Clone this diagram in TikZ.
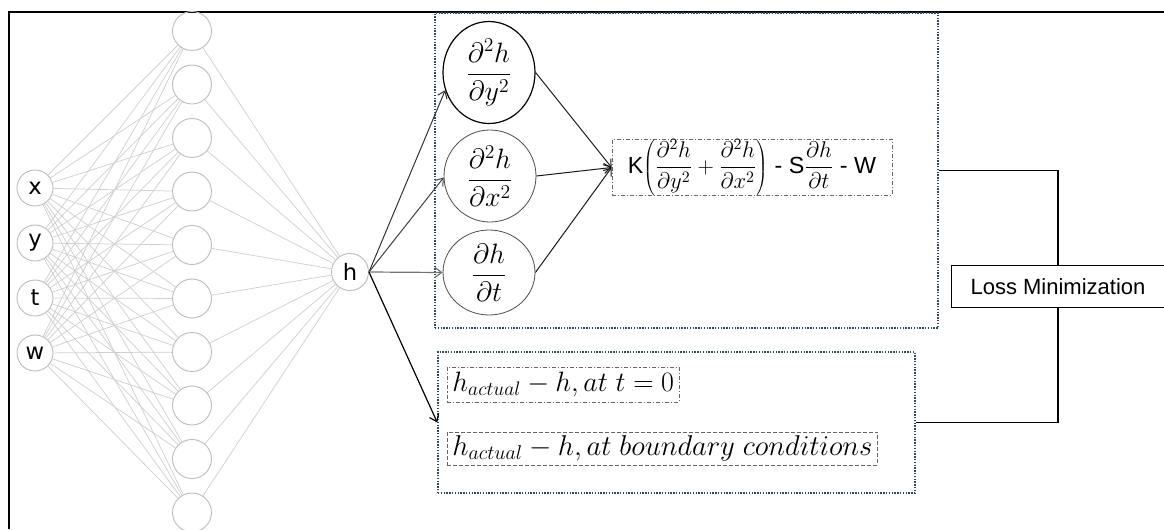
\RequirePackage{fix-cm}
\documentclass[tikz,border=0pt]{standalone}
\usepackage{fontspec}
\setmainfont{Liberation Sans}
\newfontfamily\dvs{DejaVu Sans}
\usetikzlibrary{shapes.geometric,arrows.meta}
\definecolor{grp}{HTML}{2E4A5C}
\definecolor{nnline}{HTML}{CFCFCF}
\definecolor{nncirc}{HTML}{BDBDBD}
\newcommand{\mathsz}[1]{{\fontsize{17}{20}\selectfont$\displaystyle #1$}}
\begin{document}
\begin{tikzpicture}[x=0.75pt,y=-0.75pt,
  nnin/.style={circle,draw=nncirc,line width=0.7pt,minimum size=27pt,inner sep=0pt,font=\dvs\fontsize{17}{19}\selectfont},
  nnhid/.style={circle,draw=nncirc,line width=0.7pt,minimum size=29.25pt,inner sep=0pt},
  nnedge/.style={draw=nnline,line width=0.55pt},
  deriv/.style={ellipse,inner sep=0pt,minimum width=69pt,font=\fontsize{21}{25}\selectfont},
  arr/.style={-{Straight Barb[length=5pt,width=7.5pt]},line width=0.75pt},
  grpbox/.style={draw=grp,line width=1.1pt,densely dotted,inner sep=0pt},
  dashdotbox/.style={draw=black!60,line width=0.6pt,dash pattern=on 3pt off 1.5pt on 0.8pt off 1.5pt},
  dashbox/.style={draw=black!60,line width=0.6pt,dash pattern=on 3pt off 1.5pt},
  conn/.style={line width=1.1pt,black}
]
\useasboundingbox (0,0) rectangle (1164,529);
% outer frame
\draw[line width=1.5pt] (9,529) -- (9,12) -- (1164,12);

% input nodes
\node[nnin] (in1) at (35,188) {x};
\node[nnin] (in2) at (35,243) {y};
\node[nnin] (in3) at (35,298) {t};
\node[nnin] (in4) at (35,353) {w};
% hidden nodes
\foreach \j in {1,...,10}{
  \node[nnhid] (hid\j) at (192,{31+53.5*(\j-1)}) {};
}
% output node
\node[nnin,minimum size=27.75pt] (h) at (350,272) {h};
% edges
\foreach \i in {1,...,4}{
  \foreach \j in {1,...,10}{
    \draw[nnedge] (in\i) -- (hid\j);
  }
}
\foreach \j in {1,...,10}{
  \draw[nnedge] (hid\j) -- (h);
}

% group boxes
\node[grpbox,minimum width=377.25pt,minimum height=236.25pt] (topbox) at (686.5,170.5) {};
\node[grpbox,minimum width=357.75pt,minimum height=105.75pt] (botbox) at (676.5,422.5) {};

% derivative ellipses
\node[deriv,draw=black,line width=0.9pt,minimum height=76.5pt] (e1) at (489,72.5) {$\displaystyle\frac{\partial^2 h}{\partial y^2}$};
\node[deriv,draw=black!70,line width=0.6pt,minimum height=69pt] (e2) at (490,176) {$\displaystyle\frac{\partial^2 h}{\partial x^2}$};
\node[deriv,draw=black!70,line width=0.6pt,minimum height=63.75pt] (e3) at (489,272.5) {$\displaystyle\frac{\partial h}{\partial t}$};

% PDE residual
\node[dashdotbox,minimum width=210pt,minimum height=41.25pt,inner sep=0pt,font=\fontsize{17.5}{20}\selectfont] (pde) at (752,167.5)
  {K\mathsz{\left(\frac{\partial^2 h}{\partial y^2}+\frac{\partial^2 h}{\partial x^2}\right)} - S\mathsz{\frac{\partial h}{\partial t}} - W};

% initial / boundary conditions
\node[dashdotbox,anchor=west,inner xsep=3.75pt,inner ysep=1pt,minimum height=26.25pt,font=\fontsize{21}{25}\selectfont] (ic) at (447,384.5)
  {$h_{actual}-h,at\ t=0$};
\node[dashbox,anchor=west,inner xsep=3.75pt,inner ysep=1pt,minimum height=24.75pt,font=\fontsize{21.5}{25}\selectfont] (bc) at (447,448.5)
  {$h_{actual}-h,at\ boundary\ conditions$};

% loss node
\node[minimum width=159pt,minimum height=30.75pt,inner sep=0pt,font=\fontsize{16.5}{19}\selectfont] (loss) at (1058,286.5) {Loss Minimization};
\draw[line width=1.1pt] (loss.north east) -- (loss.north west) -- (loss.south west) -- (loss.south east);

% arrows from h
\draw[arr,draw=black!80] (h.east) -- (e1.202);
\draw[arr,draw=black!75] (h.east) -- (e2.182);
\draw[arr,draw=black!55,line width=0.9pt] (h.east) -- (e3.west);
\draw[arr,draw=black,line width=0.9pt] (h.east) -- (botbox.west);

% arrows into PDE residual
\draw[arr,draw=black!90] (e1.east) -- (pde.west);
\draw[arr,draw=black!90] (e2.east) -- (pde.west);
\draw[arr,draw=black!90] (e3.east) -- (pde.west);

% connectors to loss
\draw[conn] (topbox.east) -| (loss.north);
\draw[conn] (botbox.east) -| (loss.south);
\end{tikzpicture}
\end{document}
